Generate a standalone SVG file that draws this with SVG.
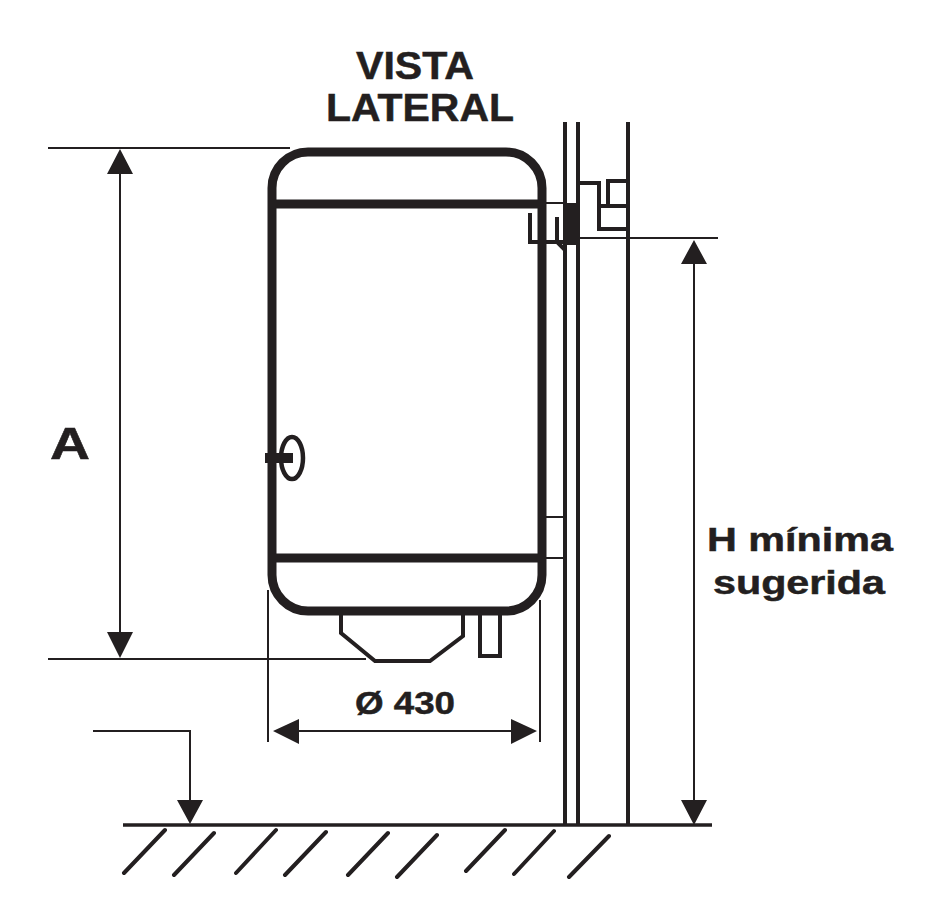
<svg xmlns="http://www.w3.org/2000/svg" width="942" height="922" viewBox="0 0 942 922">
<style>
.t{font-family:"Liberation Sans",Arial,sans-serif;font-weight:700;fill:#231f20;text-anchor:middle;stroke:#231f20;stroke-width:.5}
.thin{fill:none;stroke:#231f20;stroke-width:2}
.mid{fill:none;stroke:#231f20;stroke-width:3.5}
.wall{fill:none;stroke:#231f20;stroke-width:4}
.hatch{fill:none;stroke:#231f20;stroke-width:4;stroke-linecap:round}
.thick{fill:none;stroke:#231f20;stroke-width:9}
.gauge{fill:none;stroke:#231f20;stroke-width:4.5}
.head{fill:#231f20;stroke:none}
</style>
<rect width="942" height="922" fill="#fff"/>
<g id="wall">
<path class="wall" d="M565 122V825M578 122V825M628 122V825"/>
<path class="wall" d="M578 183H599V229H628M599 206H628M608 206V181H628"/>
<path class="thin" d="M541 203H565M545 517H565M545 558H565"/>
</g>
<g id="bracket">
<path class="wall" d="M530 213V242H565M557 217V242L565 250"/>
<rect class="head" x="565" y="203" width="15" height="42"/>
</g>
<g id="tank">
<rect class="thick" x="272" y="152" width="270" height="459" rx="36" ry="36"/>
<path class="thick" d="M272 204H542"/>
<path class="thick" d="M272 558H542"/>
<path class="wall" d="M341 615V633L375 661H430L463 636V615"/>
<path class="wall" d="M480 615V656H500V615"/>
<ellipse class="gauge" cx="292" cy="458" rx="11" ry="21"/>
<rect class="head" x="265" y="453" width="28" height="10"/>
</g>
<g id="floor">
<path class="mid" d="M123 825H712"/>
<path class="hatch" d="M124 873L165 830M174 875L214 833M236 873L276 830M285 875L326 832M348 875L388 833M397 877L437 835M466 871L505 830M514 874L554 831M569 877L609 836"/>
</g>
<g id="connectors">
<path class="thin" d="M48 148H290M48 659H366M578 238H718M268 590V742M540 600V742"/>
<path class="thin" d="M120 170V636M694 262V803M295 731H515M93 731H190V802"/>
<path class="head" d="M120 149L133 174H107ZM120 658L133 632H107ZM694 240L707 264H681ZM694 825L707 800H681ZM273 731L299 719V744ZM537 731L511 719V744ZM190 824L177 800H203Z"/>
</g>
<g id="labels">
<text class="t" x="415" y="79" font-size="38" textLength="118" lengthAdjust="spacingAndGlyphs">VISTA</text>
<text class="t" x="420" y="121" font-size="38" textLength="188" lengthAdjust="spacingAndGlyphs">LATERAL</text>
<text class="t" x="70" y="459" font-size="44" textLength="40" lengthAdjust="spacingAndGlyphs">A</text>
<text class="t" x="800" y="551" font-size="34" textLength="186" lengthAdjust="spacingAndGlyphs">H mínima</text>
<text class="t" x="799" y="594" font-size="34" textLength="172" lengthAdjust="spacingAndGlyphs">sugerida</text>
<text class="t" x="405" y="714" font-size="32" textLength="100" lengthAdjust="spacingAndGlyphs">Ø 430</text>
</g>
</svg>
